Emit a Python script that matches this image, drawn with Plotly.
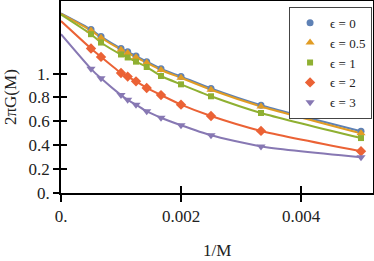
import plotly.graph_objects as go

M = [2000, 1500, 1000, 900, 800, 700, 600, 500, 400, 300, 200]
x_pts = [1.0 / m for m in M]

labels = ["ϵ = 0", "ϵ = 0.5", "ϵ = 1", "ϵ = 2", "ϵ = 3"]
intercepts = [1.505, 1.50, 1.495, 1.44, 1.33]
g_eps0 = [1.37, 1.31, 1.21, 1.182, 1.147, 1.10, 1.04, 0.975, 0.875, 0.735, 0.517]
g_eps05 = [1.36, 1.30, 1.20, 1.172, 1.137, 1.09, 1.03, 0.965, 0.865, 0.725, 0.50]
g_eps1 = [1.33, 1.26, 1.16, 1.135, 1.10, 1.055, 0.98, 0.91, 0.81, 0.67, 0.46]
g_eps2 = [1.21, 1.14, 1.005, 0.975, 0.935, 0.88, 0.82, 0.74, 0.645, 0.52, 0.35]
g_eps3 = [1.04, 0.96, 0.82, 0.78, 0.74, 0.685, 0.63, 0.567, 0.483, 0.39, 0.30]
series = [g_eps0, g_eps05, g_eps1, g_eps2, g_eps3]

colors = ["#5E81B5", "#E19C24", "#8FB032", "#EB6235", "#8778B3"]
symbols = ["circle", "triangle-up", "square", "diamond", "triangle-down"]
msizes = [7, 8, 6, 8, 8]

x_ticks = [0, 0.002, 0.004]
x_ticktext = ["0.", "0.002", "0.004"]
y_ticks = [0, 0.2, 0.4, 0.6, 0.8, 1.0]
y_ticktext = ["0.", "0.2", "0.4", "0.6", "0.8", "1."]

FONT = "Liberation Serif"

fig = go.Figure()
for i in range(5):
    fig.add_trace(go.Scatter(
        x=[0.0] + x_pts, y=[intercepts[i]] + series[i], mode="lines",
        line=dict(color=colors[i], width=2, shape="spline", smoothing=0.6),
        showlegend=False, hoverinfo="skip"))
for i in range(5):
    fig.add_trace(go.Scatter(
        x=x_pts, y=series[i], mode="markers", name=labels[i],
        marker=dict(color=colors[i], symbol=symbols[i], size=msizes[i], line=dict(width=0))))

# invisible trace on overlay axes for inward ticks
fig.add_trace(go.Scatter(x=[0], y=[0], xaxis="x2", yaxis="y2", mode="markers",
                         marker=dict(opacity=0), showlegend=False, hoverinfo="skip"))

XR = [0, 0.0052]
YR = [0, 1.608]
fig.update_layout(
    width=374, height=261,
    margin=dict(l=61, r=1, t=1, b=68),
    paper_bgcolor="white", plot_bgcolor="white",
    font=dict(family=FONT, size=17, color="#222"),
    xaxis=dict(range=XR, tickvals=x_ticks, ticktext=x_ticktext, showgrid=False, zeroline=False,
               showline=True, linecolor="black", linewidth=1.5, mirror=True, automargin=False,
               ticks="outside", ticklen=7, tickwidth=1.5, tickcolor="black"),
    yaxis=dict(range=YR, tickvals=y_ticks, ticktext=y_ticktext, showgrid=False, zeroline=False,
               showline=True, linecolor="black", linewidth=1.5, mirror=True, automargin=False,
               ticks="outside", ticklen=6, tickwidth=1.5, tickcolor="black"),
    xaxis2=dict(range=XR, overlaying="x", tickvals=x_ticks, showticklabels=False, showgrid=False,
                zeroline=False, ticks="inside", ticklen=7, tickwidth=1.5, tickcolor="black",
                anchor="y2", side="bottom", automargin=False),
    yaxis2=dict(range=YR, overlaying="y", tickvals=y_ticks, showticklabels=False, showgrid=False,
                zeroline=False, ticks="inside", ticklen=6, tickwidth=1.5, tickcolor="black",
                anchor="x2", side="left", automargin=False),
    legend=dict(x=0.997, y=0.97, xanchor="right", yanchor="top",
                bgcolor="white", bordercolor="#444", borderwidth=1,
                font=dict(family=FONT, size=13), itemwidth=30, tracegroupgap=0),
    annotations=[
        dict(text="2πG(M)", xref="paper", yref="paper", x=0, y=0.5, xanchor="center",
             yanchor="middle", xshift=-51, textangle=-90, showarrow=False,
             font=dict(family=FONT, size=17, color="#222")),
        dict(text="1/M", xref="paper", yref="paper", x=0.5, y=0, xanchor="center",
             yanchor="middle", yshift=-57, showarrow=False,
             font=dict(family=FONT, size=17, color="#222")),
    ],
)
fig.write_html("out.html", config={"displayModeBar": False},
               post_script="document.body.style.margin='0px';document.body.style.padding='0px';")
